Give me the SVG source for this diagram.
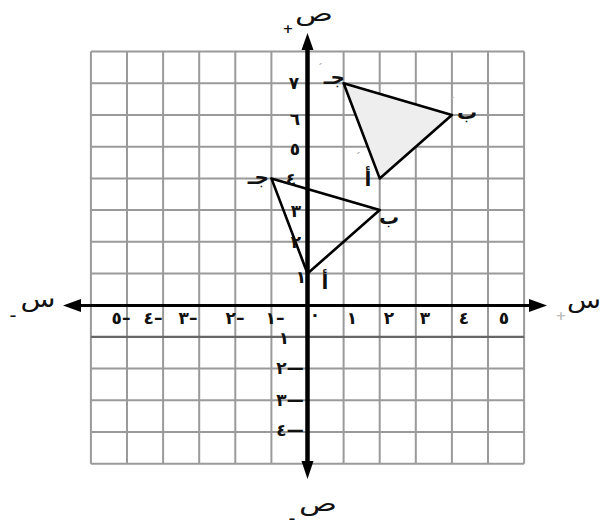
<svg xmlns="http://www.w3.org/2000/svg" width="602" height="526" viewBox="0 0 602 526">
<style>
.grid{stroke:#9a9a9a;stroke-width:2;fill:none}
.axis{stroke:#000;fill:none}
.head{fill:#000}
.tri{stroke:#000;stroke-width:2.6;stroke-linejoin:round}
.t{font-family:"DejaVu Sans",sans-serif;font-weight:bold;fill:#111}
.d{font-size:17px;text-anchor:middle}
.l{font-size:20px}
.ax{font-size:22px;font-weight:normal;text-anchor:middle}
.sg{font-family:"DejaVu Sans",sans-serif;font-size:13px;text-anchor:middle}
.pr{font-family:"DejaVu Sans",sans-serif;font-size:11px;fill:#b0b0b0}
</style>
<rect width="602" height="526" fill="#fff"/>
<g id="grid">
<path class="grid" d="M90.9 51.6V463.7M127 51.6V463.7M163.1 51.6V463.7M199.2 51.6V463.7M235.3 51.6V463.7M271.4 51.6V463.7M343.6 51.6V463.7M379.7 51.6V463.7M415.8 51.6V463.7M451.9 51.6V463.7M488 51.6V463.7M524.1 51.6V463.7
M90.9 51.6H524.1M90.9 83.3H524.1M90.9 115H524.1M90.9 146.7H524.1M90.9 178.4H524.1M90.9 210.1H524.1M90.9 241.8H524.1M90.9 273.5H524.1M90.9 368.6H524.1M90.9 400.3H524.1M90.9 432H524.1M90.9 463.7H524.1"/>
<path d="M90.9 336.9H524.1" stroke="#666" stroke-width="2.2"/>
</g>
<g id="triangles">
<polygon id="tri-upper" class="tri" fill="#eeeeee" points="343.6,83.3 451.9,115 379.7,178.4"/>
<polygon id="tri-lower" class="tri" fill="none" points="271.4,178.4 379.7,210.1 307.5,273.5"/>
</g>
<g id="axes">
<line class="axis" x1="307.5" y1="48" x2="307.5" y2="464" stroke-width="4.5"/>
<polygon class="head" points="307.5,33 301.5,50 313.5,50"/>
<polygon class="head" points="301.5,461 313.5,461 307.5,479"/>
<line class="axis" x1="79" y1="305.5" x2="531" y2="305.5" stroke-width="3"/>
<polygon class="head" points="63,305.5 81,299 81,312"/>
<polygon class="head" points="547,305.5 529,299 529,312"/>
</g>
<g id="axis-labels" class="t">
<text class="ax" x="314" y="21" textLength="38" lengthAdjust="spacingAndGlyphs">ص</text>
<text class="sg" x="288" y="33">+</text>
<text class="ax" x="318" y="511" textLength="38" lengthAdjust="spacingAndGlyphs">ص</text>
<text class="sg" x="292" y="523">–</text>
<text class="ax" x="38" y="307" textLength="35" lengthAdjust="spacingAndGlyphs">س</text>
<text class="sg" x="13" y="320">–</text>
<text class="ax" x="584" y="308" textLength="34" lengthAdjust="spacingAndGlyphs">س</text>
<text class="sg" x="561" y="320" fill="#bbb">+</text>
</g>
<g id="y-ticks" class="t d">
<text x="294" y="89">٧</text>
<text x="295" y="125">٦</text>
<text x="295" y="155">٥</text>
<text x="291" y="185">٤</text>
<text x="296" y="217">٣</text>
<text x="296" y="248">٢</text>
<text x="301" y="283">١</text>
<text x="284" y="344">١</text>
<text x="290" y="374">٢—</text>
<text x="290" y="406">٣—</text>
<text x="290" y="436">٤—</text>
</g>
<g id="x-ticks" class="t d">
<text x="315" y="320">٠</text>
<text x="352" y="324">١</text>
<text x="389" y="324">٢</text>
<text x="425" y="324">٣</text>
<text x="464" y="324">٤</text>
<text x="504" y="324">٥</text>
<text x="275" y="324">١–</text>
<text x="235" y="324">٢–</text>
<text x="188" y="324">٣–</text>
<text x="153" y="324">٤–</text>
<text x="121" y="324">٥–</text>
</g>
<g id="vertex-labels" class="t l">
<text x="345" y="84" text-anchor="end">جـ</text>
<text x="467" y="119" text-anchor="middle">ب</text>
<text x="368" y="186" text-anchor="middle">أ</text>
<text x="269" y="184" text-anchor="end">جـ</text>
<text x="389" y="224" text-anchor="middle">ب</text>
<text x="325" y="289" text-anchor="middle">أ</text>
<text class="pr" x="317" y="72">ˊ</text>
<text class="pr" x="449" y="106">ˊ</text>
<text class="pr" x="355" y="161">ˊ</text>
</g>
</svg>
